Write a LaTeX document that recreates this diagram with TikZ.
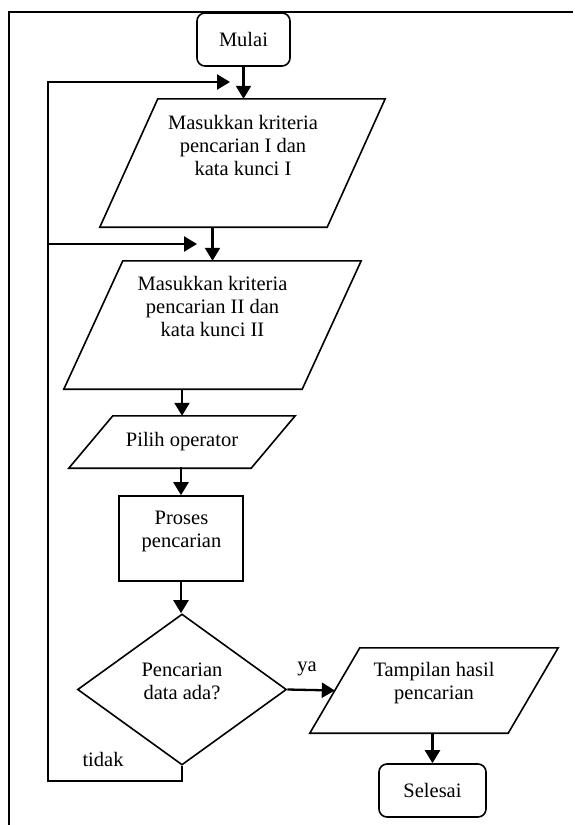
\documentclass[tikz,border=0pt]{standalone}
\usepackage{fontspec}
\setmainfont{Liberation Serif}
\usetikzlibrary{arrows.meta,calc,shapes.geometric}

% outline of an input/output parallelogram drawn over a rectangular node
\newcommand\drawio[2]{%
  \draw[outline] ($(#1.north west)+(#2,0)$) -- (#1.north east)
    -- ($(#1.south east)-(#2,0)$) -- (#1.south west) -- cycle;}

\tikzset{
  outline/.style={line width=1.6pt, line join=miter},
  frameline/.style={line width=1.3pt},
  arr/.style={line width=2.3pt, -{Triangle[length=13pt,width=15pt]}},
  txt/.style={font=\fontsize{20.5}{23}\selectfont, align=center, inner sep=0pt},
  terminal/.style={draw, outline, rounded corners=8pt, inner sep=0pt,
    font=\fontsize{20.5}{23}\selectfont},
  iobox/.style={inner sep=0pt, font=\fontsize{20.5}{23}\selectfont},
  procbox/.style={draw, outline, inner sep=0pt},
  decision/.style={draw, outline, diamond, inner sep=0pt},
}

\begin{document}
\begin{tikzpicture}[x=1pt,y=-1pt]
  \useasboundingbox (0,0) rectangle (574,825);

  % table border
  \draw[frameline] (9,825) -- (9,12) -- (573,12);

  % shapes (multi-line texts are placed by the baseline of their last line)
  \node[terminal, minimum width=93pt, minimum height=53pt] (start) at (243.5,39.5) {Mulai};
  \node[iobox, minimum width=285pt, minimum height=128pt] (p1) at (242.5,163) {};
  \drawio{p1}{58}
  \node[txt, anchor=base] (p1t) at (243,175) {Masukkan kriteria\\pencarian I dan\\kata kunci I};

  \node[iobox, minimum width=297pt, minimum height=128pt] (p2) at (212.5,325) {};
  \drawio{p2}{59}
  \node[txt, anchor=base] (p2t) at (212.5,336) {Masukkan kriteria\\pencarian II dan\\kata kunci II};

  \node[iobox, minimum width=226pt, minimum height=52pt] (p3) at (182,442) {Pilih operator};
  \drawio{p3}{44}

  \node[procbox, minimum width=124pt, minimum height=85pt] (proc) at (181,538.5) {};
  \node[txt, anchor=base] (proct) at (181.5,547) {Proses\\pencarian};

  \node[decision, minimum width=209pt, minimum height=151pt] (dec) at (182,689.5) {};
  \node[txt, anchor=base] (dect) at (182,699) {Pencarian\\data ada?};

  \node[iobox, minimum width=248pt, minimum height=85pt] (out) at (434,690.5) {};
  \drawio{out}{50}
  \node[txt, anchor=base] (outt) at (434,699) {Tampilan hasil\\pencarian};

  \node[terminal, minimum width=107pt, minimum height=53pt] (stop) at (432.5,790.5) {Selesai};

  % branch labels
  \node[txt, anchor=base] (ya) at (307,671) {ya};
  \node[txt, anchor=base] (tidak) at (103,766) {tidak};

  % loop-back coordinates
  \coordinate (lb) at (48,781);
  \coordinate (lt) at (48,82);
  \coordinate (in1) at (230,82);
  \coordinate (lm) at (48,244);
  \coordinate (in2) at (197,244);
  \coordinate (outleft) at ($($(out.north west)+(50,0)$)!0.5!(out.south west)$);

  % connectors
  \draw[arr] (start.south) -- (start.south |- p1.north);
  \draw[arr] (p1.south -| p2.north) -- (p2.north);
  \draw[arr] (p2.south -| p3.north) -- (p3.north);
  \draw[arr] (p3.south) -- (p3.south -| proc.north) -- (proc.north);
  \draw[arr] (proc.south) -- (proc.south |- dec.north);
  \draw[arr] (dec.east) -- (outleft);
  \draw[arr] (out.south -| stop.north) -- (stop.north);
  \draw[arr, line join=miter] (dec.south) -- (dec.south |- lb) -- (lb) -- (lt) -- (in1);
  \draw[arr] (lm) -- (in2);
\end{tikzpicture}
\end{document}
